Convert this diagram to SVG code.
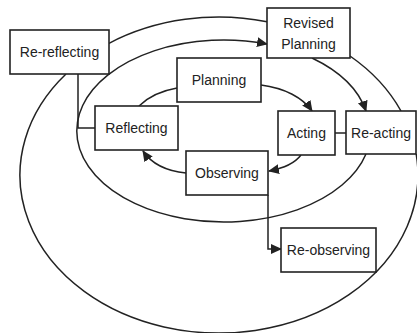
<svg xmlns="http://www.w3.org/2000/svg" width="417" height="333" viewBox="0 0 417 333">
<style>
.box{fill:#fff;stroke:#222;stroke-width:1.6}
.lbl{font-family:"Liberation Sans",Arial,sans-serif;font-size:14px;fill:#222;text-anchor:middle}
.con{fill:none;stroke:#222;stroke-width:1.5}
</style>
<defs>
<marker id="ah" markerUnits="userSpaceOnUse" markerWidth="11" markerHeight="11" viewBox="0 0 11 10" refX="10" refY="5" orient="auto">
<path d="M0,0 L11,5 L0,10 z" fill="#222"/>
</marker>
</defs>
<rect width="417" height="333" fill="#fff"/>
<g id="connectors">
<path class="con" d="M109,43.3 A199,158 0 0 1 267,21.7"/>
<path class="con" d="M350,56 A199,158 0 0 1 401,111"/>
<path class="con" d="M416.2,154 A199,158 0 1 1 66,74"/>
<path class="con" d="M366,154 A147,91 0 1 1 267,44" marker-end="url(#ah)"/>
<path class="con" d="M312,58 A147,91 0 0 1 366,111" marker-end="url(#ah)"/>
<polyline class="con" points="78,74 78,128 95,128"/>
<line class="con" x1="335" y1="133" x2="346" y2="133"/>
<polyline class="con" points="268,195 268,249 281,249" marker-end="url(#ah)"/>
<path class="con" d="M261,85 C285,88 303,98 312,111" marker-end="url(#ah)"/>
<path class="con" d="M301,155 C295,163 285,168 269,171" marker-end="url(#ah)"/>
<path class="con" d="M186,173 C166,171 151,163 143,151" marker-end="url(#ah)"/>
<path class="con" d="M139,106 C148,97 160,91 177,88"/>
</g>
<g id="re-reflecting"><rect class="box" x="10" y="30" width="99" height="44"/><text class="lbl" x="59.5" y="57">Re-reflecting</text></g>
<g id="revised-planning"><rect class="box" x="267" y="8" width="83" height="50"/><text class="lbl" x="308.5" y="28">Revised</text><text class="lbl" x="308.5" y="49">Planning</text></g>
<g id="planning"><rect class="box" x="177" y="58" width="84" height="44"/><text class="lbl" x="219" y="85">Planning</text></g>
<g id="reflecting"><rect class="box" x="95" y="106" width="83" height="44"/><text class="lbl" x="136.5" y="133">Reflecting</text></g>
<g id="acting"><rect class="box" x="278" y="111" width="57" height="44"/><text class="lbl" x="306.5" y="138">Acting</text></g>
<g id="re-acting"><rect class="box" x="346" y="111" width="70" height="43"/><text class="lbl" x="381" y="138">Re-acting</text></g>
<g id="observing"><rect class="box" x="186" y="151" width="82" height="44"/><text class="lbl" x="227" y="178">Observing</text></g>
<g id="re-observing"><rect class="box" x="281" y="228" width="95" height="44"/><text class="lbl" x="328.5" y="255">Re-observing</text></g>
</svg>
